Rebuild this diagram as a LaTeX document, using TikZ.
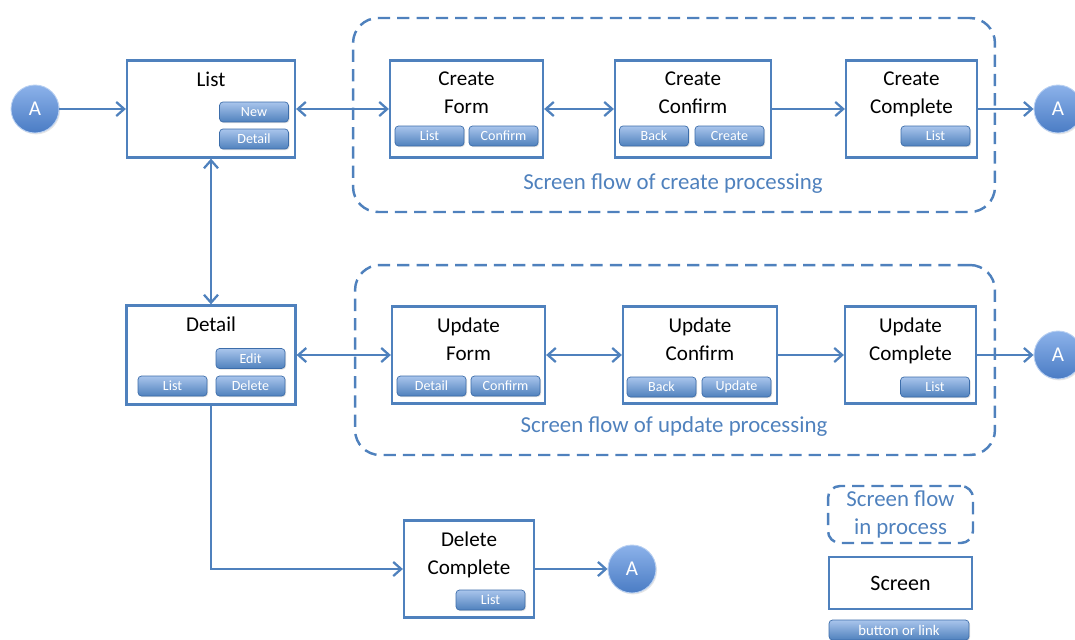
\documentclass[tikz,border=0pt]{standalone}
\usepackage{fontspec}
\setmainfont{Carlito}
\usetikzlibrary{positioning,arrows.meta,shadows}
\definecolor{sfBlue}{HTML}{4F81BD}
\definecolor{sfBlueD}{HTML}{3C6DAA}
\definecolor{sfBlueL}{HTML}{A9C5EC}
\definecolor{sfText}{HTML}{4F81BD}
\definecolor{aTop}{HTML}{8CB2EA}
\definecolor{aBot}{HTML}{4A7CC4}
\begin{document}
\begin{tikzpicture}[x=0.02cm,y=-0.02cm,
  screen/.style={draw=sfBlue,line width=1.3pt,fill=white,
                 minimum height=1.94cm,inner sep=0pt},
  title/.style={font=\fontsize{12}{16}\selectfont,align=center,inner sep=0pt},
  btn/.style={draw=sfBlueD,line width=0.4pt,rounded corners=2pt,
              top color=sfBlueL,bottom color=sfBlue,text=white,
              font=\fontsize{8}{9}\selectfont,
              minimum width=1.38cm,minimum height=0.4cm,inner sep=0pt,
              drop shadow={opacity=0.25,shadow xshift=0.6pt,shadow yshift=-0.6pt}},
  region/.style={draw=sfBlue,line width=1.4pt,dash pattern=on 7pt off 4pt,
                 rounded corners=0.5cm,inner sep=0pt},
  rlabel/.style={font=\fontsize{13}{16}\selectfont,text=sfText},
  conn/.style={circle,draw=aTop!60!white,line width=0.5pt,
               top color=aTop,bottom color=aBot,text=white,minimum size=0.96cm,
               inner sep=0pt,font=\fontsize{12}{14}\selectfont,
               drop shadow={opacity=0.2,shadow xshift=0.6pt,shadow yshift=-0.8pt}},
  arr/.style={-{Straight Barb[length=4.5pt,width=8pt]},sfBlue,line width=1.3pt},
  darr/.style={{Straight Barb[length=4.5pt,width=8pt]}-{Straight Barb[length=4.5pt,width=8pt]},
               sfBlue,line width=1.3pt}]
\useasboundingbox (0,0) rectangle (1075,639);

%% processing regions
\node[region,minimum width=12.84cm,minimum height=3.88cm] (crRegion) at (674,115) {};
\node[rlabel] (crLbl) at (673,184) {Screen flow of create processing};
\node[region,minimum width=12.8cm,minimum height=3.8cm] (upRegion) at (675,360) {};
\node[rlabel] (upLbl) at (674,427) {Screen flow of update processing};

%% list screen
\node[conn] (aL) at (35,109) {A};
\node[screen,minimum width=3.36cm] (list) at (211,109) {};
\node[title,below=0.24cm of list.north] (listT) {List};
\node[btn] (listNew) at (254,112) {New};
\node[btn] (listDet) at (254,139) {Detail};

%% create flow
\node[screen,minimum width=3.06cm] (crForm) at (466.5,109) {};
\node[title,below=0.24cm of crForm.north] (crFormT) {Create\\Form};
\node[btn] (crFormL) at (429.5,136) {List};
\node[btn] (crFormC) at (503.5,136) {Confirm};

\node[screen,minimum width=3.12cm] (crConf) at (693,109) {};
\node[title,below=0.24cm of crConf.north] (crConfT) {Create\\Confirm};
\node[btn] (crConfB) at (654,136) {Back};
\node[btn] (crConfC) at (729.5,136) {Create};

\node[screen,minimum width=2.62cm] (crComp) at (911.5,109) {};
\node[title,below=0.24cm of crComp.north] (crCompT) {Create\\Complete};
\node[btn] (crCompL) at (935.5,136) {List};
\node[conn] (aCr) at (1058,109) {A};

%% detail screen
\node[screen,minimum width=3.38cm,minimum height=1.98cm] (detail) at (211,355) {};
\node[title,below=0.24cm of detail.north] (detailT) {Detail};
\node[btn] (detEdit) at (250.5,358.5) {Edit};
\node[btn] (detList) at (172.5,386) {List};
\node[btn] (detDel) at (250.5,386) {Delete};

%% update flow
\node[screen,minimum width=3.06cm] (upForm) at (468.5,355) {};
\node[title,below=0.24cm of upForm.north] (upFormT) {Update\\Form};
\node[btn] (upFormD) at (431.5,386) {Detail};
\node[btn] (upFormC) at (505.5,386) {Confirm};

\node[screen,minimum width=3.08cm] (upConf) at (700,355) {};
\node[title,below=0.24cm of upConf.north] (upConfT) {Update\\Confirm};
\node[btn] (upConfB) at (661.5,387) {Back};
\node[btn] (upConfU) at (736.5,387) {Update};

\node[screen,minimum width=2.62cm] (upComp) at (910.5,355) {};
\node[title,below=0.24cm of upComp.north] (upCompT) {Update\\Complete};
\node[btn] (upCompL) at (935,387) {List};
\node[conn] (aUp) at (1058,355) {A};

%% delete
\node[screen,minimum width=2.6cm] (delComp) at (469,569) {};
\node[title,below=0.24cm of delComp.north] (delCompT) {Delete\\Complete};
\node[btn] (delCompL) at (490.5,600) {List};
\node[conn] (aDel) at (632,569) {A};

%% legend
\node[region,rounded corners=0.24cm,minimum width=2.9cm,minimum height=1.14cm,
      font=\fontsize{13}{16}\selectfont,text=sfText,align=center] (lgRegion)
  at (900.5,514.5) {Screen flow\\in process};
\node[screen,minimum width=2.86cm,minimum height=1.04cm,
      font=\fontsize{12.5}{14}\selectfont] (lgScreen) at (900.5,583) {Screen};
\node[btn,minimum width=2.8cm,font=\fontsize{8.4}{9}\selectfont] (lgBtn) at (899,630) {button or link};

%% connectors
\draw[arr]  (aL) -- (list);
\draw[darr] (list) -- (crForm);
\draw[darr] (crForm) -- (crConf);
\draw[arr]  (crConf) -- (crComp);
\draw[arr]  (crComp) -- (aCr);
\draw[darr] (list) -- (detail);
\draw[darr] (detail) -- (upForm);
\draw[darr] (upForm) -- (upConf);
\draw[arr]  (upConf) -- (upComp);
\draw[arr]  (upComp) -- (aUp);
\draw[arr]  (detail) |- (delComp);
\draw[arr]  (delComp) -- (aDel);
\end{tikzpicture}
\end{document}
